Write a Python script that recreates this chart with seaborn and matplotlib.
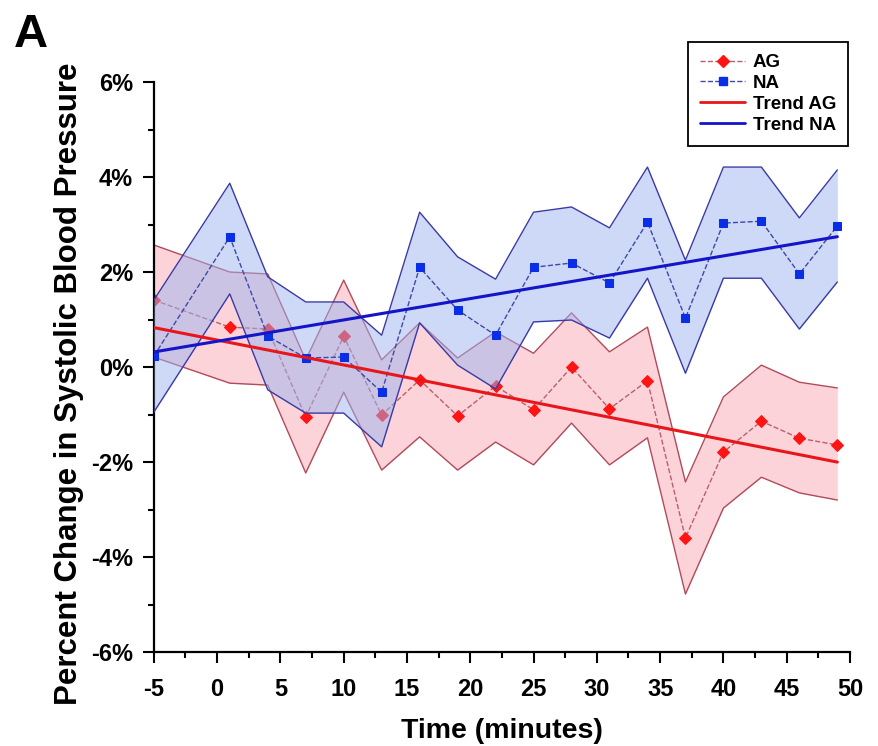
# Percent change in systolic blood pressure over time, AG vs NA
import numpy as np
import pandas as pd
import matplotlib
matplotlib.use("Agg")
import matplotlib.pyplot as plt
import seaborn as sns
from matplotlib.ticker import MultipleLocator, FuncFormatter
from matplotlib.lines import Line2D

# data (percent)
time_min = [-5, 1, 4, 7, 10, 13, 16, 19, 22, 25, 28, 31, 34, 37, 40, 43, 46, 49]

ag_mean = [1.41, 0.84, 0.80, -1.05, 0.65, -1.01, -0.27, -1.03, -0.40, -0.90,
           0.00, -0.88, -0.29, -3.60, -1.79, -1.14, -1.50, -1.64]
ag_upper = [2.57, 2.00, 1.96, 0.15, 1.83, 0.15, 0.93, 0.19, 0.74, 0.29,
            1.14, 0.32, 0.84, -2.42, -0.63, 0.04, -0.32, -0.44]
ag_lower = [0.21, -0.34, -0.38, -2.23, -0.53, -2.17, -1.47, -2.17, -1.58, -2.06,
            -1.18, -2.06, -1.49, -4.78, -2.97, -2.32, -2.65, -2.80]

na_mean = [0.23, 2.74, 0.65, 0.19, 0.21, -0.53, 2.10, 1.20, 0.67, 2.10,
           2.19, 1.77, 3.05, 1.03, 3.03, 3.07, 1.96, 2.97]
na_upper = [1.41, 3.87, 1.90, 1.37, 1.37, 0.67, 3.26, 2.32, 1.85, 3.26,
            3.37, 2.93, 4.21, 2.25, 4.21, 4.21, 3.14, 4.15]
na_lower = [-0.95, 1.54, -0.48, -0.97, -0.97, -1.68, 0.93, 0.04, -0.46, 0.95,
            0.99, 0.61, 1.87, -0.13, 1.87, 1.87, 0.80, 1.79]

df = pd.DataFrame({"time": time_min, "AG": ag_mean, "NA": na_mean})

# colours
RED_MARK = "#ff1414"
RED_DASH = "#b8606e"
RED_EDGE = "#b24a5a"
RED_FILL = "#f9a9b3"
RED_TREND = "#e8161b"
BLUE_MARK = "#0a2ee6"
BLUE_DASH = "#4048a8"
BLUE_EDGE = "#3a3aa6"
BLUE_FILL = "#9db5f0"
BLUE_TREND = "#1414c8"

sns.set_style("ticks")
plt.rcParams["font.family"] = ["Liberation Sans", "DejaVu Sans"]
plt.rcParams["font.weight"] = "bold"
plt.rcParams["axes.labelweight"] = "bold"
plt.rcParams["axes.unicode_minus"] = False
for k in ["text.color", "axes.labelcolor", "xtick.color", "ytick.color"]:
    plt.rcParams[k] = "black"

fig = plt.figure(figsize=(8.79, 7.46), dpi=100)
ax = fig.add_axes([0.175, 0.126, 0.792, 0.764])

# AG band + dashed series
ax.fill_between(time_min, ag_lower, ag_upper, color=RED_FILL, alpha=0.5, lw=0, zorder=1)
ax.plot(time_min, ag_upper, color=RED_EDGE, lw=1, zorder=1)
ax.plot(time_min, ag_lower, color=RED_EDGE, lw=1, zorder=1)
sns.lineplot(data=df, x="time", y="AG", ax=ax, color=RED_DASH, linestyle="--",
             lw=1, marker="D", markersize=6, markerfacecolor=RED_MARK,
             markeredgecolor=RED_MARK, zorder=2)

# NA band + dashed series
ax.fill_between(time_min, na_lower, na_upper, color=BLUE_FILL, alpha=0.5, lw=0, zorder=3)
ax.plot(time_min, na_upper, color=BLUE_EDGE, lw=1, zorder=3)
ax.plot(time_min, na_lower, color=BLUE_EDGE, lw=1, zorder=3)
sns.lineplot(data=df, x="time", y="NA", ax=ax, color=BLUE_DASH, linestyle="--",
             lw=1, marker="s", markersize=6, markerfacecolor=BLUE_MARK,
             markeredgecolor=BLUE_MARK, zorder=4)

# linear trends
sns.regplot(data=df, x="time", y="AG", ax=ax, scatter=False, ci=None,
            line_kws=dict(color=RED_TREND, lw=2.2, zorder=5))
sns.regplot(data=df, x="time", y="NA", ax=ax, scatter=False, ci=None,
            line_kws=dict(color=BLUE_TREND, lw=2.2, zorder=5))

# axes
ax.set_xlim(-5, 50)
ax.set_ylim(-6, 6)
ax.xaxis.set_major_locator(MultipleLocator(5))
ax.xaxis.set_minor_locator(MultipleLocator(2.5))
ax.yaxis.set_major_locator(MultipleLocator(2))
ax.yaxis.set_minor_locator(MultipleLocator(1))
ax.yaxis.set_major_formatter(FuncFormatter(lambda v, p: f"{v:.0f}%"))
ax.tick_params(which="major", length=8, width=1.5, labelsize=17, pad=7)
ax.tick_params(axis="x", which="major", pad=11)
ax.tick_params(which="minor", length=4.5, width=1.5)
sns.despine(ax=ax)
for s in ["left", "bottom"]:
    ax.spines[s].set_linewidth(1.6)
    ax.spines[s].set_color("black")

ax.set_xlabel("Time (minutes)", fontsize=20.5, fontweight="bold", labelpad=12)
ax.set_ylabel("Percent Change in Systolic Blood Pressure", fontsize=22.5,
              fontweight="bold")
ax.yaxis.set_label_coords(-0.1, 0.47)

# legend
handles = [
    Line2D([], [], color=RED_DASH, ls="--", lw=1, marker="D", markersize=6.5,
           markerfacecolor=RED_MARK, markeredgecolor=RED_MARK),
    Line2D([], [], color=BLUE_DASH, ls="--", lw=1, marker="s", markersize=6,
           markerfacecolor=BLUE_MARK, markeredgecolor=BLUE_MARK),
    Line2D([], [], color=RED_TREND, lw=2),
    Line2D([], [], color=BLUE_TREND, lw=2),
]
leg = fig.legend(handles, ["AG", "NA", "Trend AG", "Trend NA"],
                 loc="upper right", bbox_to_anchor=(0.965, 0.944),
                 borderaxespad=0, fancybox=False, framealpha=1,
                 edgecolor="black", prop={"weight": "bold", "size": 13.5},
                 handlelength=2.4, handletextpad=0.4, labelspacing=0.2,
                 borderpad=0.65)
leg.get_frame().set_linewidth(1.3)

fig.text(0.016, 0.982, "A", fontsize=34, fontweight="bold", va="top", ha="left")

plt.savefig("out.png", dpi=100)
